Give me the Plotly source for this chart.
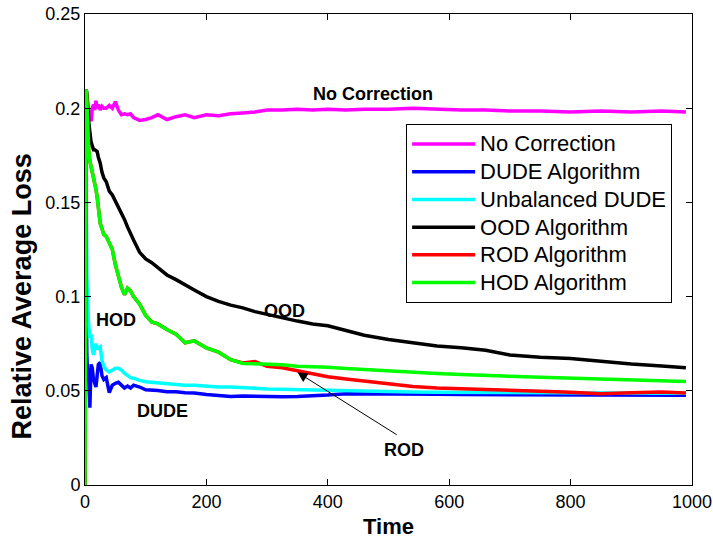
import plotly.graph_objects as go

# Time samples (dense near the start where the curves move fast)
time = [0, 1, 2, 3, 4, 5, 6, 8, 10, 12, 14, 16, 18, 20, 22, 25, 28, 31, 35, 40,
        45, 50, 55, 60, 65, 70, 75, 80, 90, 100, 110, 120, 135, 150, 165, 180, 200, 220, 240, 260,
        280, 300, 325, 350, 375, 400, 430, 460, 500, 540, 580, 620, 660, 700, 750, 800, 850, 900, 950, 990]

no_correction = [0, 0.205, 0.2, 0.198, 0.2, 0.197, 0.199, 0.196, 0.193, 0.2, 0.202, 0.199, 0.204, 0.2, 0.202, 0.199, 0.201, 0.2, 0.2, 0.2015,
                 0.2, 0.2035, 0.199, 0.1965, 0.197, 0.1965, 0.197, 0.195, 0.1935, 0.194, 0.195, 0.1965, 0.194, 0.1955, 0.1965, 0.195, 0.1965, 0.196, 0.197, 0.1975,
                 0.198, 0.199, 0.199, 0.1995, 0.199, 0.1995, 0.199, 0.1995, 0.1995, 0.2, 0.1995, 0.199, 0.199, 0.1985, 0.1985, 0.198, 0.1985, 0.198, 0.1985, 0.198]

dude = [0, 0.18, 0.1, 0.07, 0.06, 0.062, 0.058, 0.041, 0.064, 0.062, 0.056, 0.054, 0.052, 0.058, 0.064, 0.065, 0.058, 0.056, 0.057, 0.049,
        0.053, 0.054, 0.0545, 0.053, 0.0515, 0.0525, 0.0515, 0.053, 0.052, 0.0505, 0.0505, 0.0502, 0.0495, 0.0495, 0.049, 0.0488, 0.048, 0.0475, 0.047, 0.0472,
        0.047, 0.0472, 0.0468, 0.047, 0.0472, 0.0478, 0.0485, 0.0485, 0.0483, 0.0482, 0.0482, 0.048, 0.048, 0.048, 0.0478, 0.0478, 0.0478, 0.0477, 0.0477, 0.0477]

unbalanced_dude = [0, 0.2, 0.15, 0.11, 0.095, 0.09, 0.085, 0.078, 0.08, 0.072, 0.069, 0.072, 0.075, 0.072, 0.073, 0.0735, 0.066, 0.063, 0.061, 0.06,
                   0.061, 0.062, 0.062, 0.061, 0.0594, 0.0584, 0.057, 0.0567, 0.0555, 0.0548, 0.0545, 0.054, 0.0535, 0.0535, 0.053, 0.053, 0.0525, 0.052, 0.052, 0.0515,
                   0.0514, 0.051, 0.0508, 0.0505, 0.0504, 0.0502, 0.05, 0.0497, 0.0495, 0.0494, 0.0492, 0.0491, 0.049, 0.049, 0.0489, 0.0488, 0.0488, 0.0487, 0.0487, 0.0487]

ood = [0, 0.205, 0.21, 0.208, 0.205, 0.2, 0.193, 0.185, 0.182, 0.18, 0.178, 0.178, 0.1775, 0.177, 0.174, 0.171, 0.166, 0.163, 0.161, 0.156,
       0.154, 0.151, 0.1475, 0.144, 0.141, 0.137, 0.133, 0.13, 0.1235, 0.12, 0.118, 0.1155, 0.1115, 0.109, 0.106, 0.1035, 0.1, 0.0975, 0.0955, 0.094,
       0.092, 0.0905, 0.0885, 0.087, 0.0855, 0.0845, 0.082, 0.0795, 0.0772, 0.0755, 0.0738, 0.0728, 0.0715, 0.069, 0.0678, 0.0672, 0.0655, 0.0642, 0.0632, 0.0623]

rod = [0, 0.2, 0.21, 0.205, 0.195, 0.185, 0.178, 0.172, 0.169, 0.167, 0.165, 0.16, 0.157, 0.153, 0.148, 0.139, 0.136, 0.133, 0.132, 0.128,
       0.125, 0.117, 0.111, 0.105, 0.101, 0.1045, 0.103, 0.1, 0.096, 0.09, 0.0865, 0.0855, 0.0825, 0.08, 0.0755, 0.0765, 0.0728, 0.0705, 0.0665, 0.0648,
       0.0655, 0.063, 0.0622, 0.0605, 0.0592, 0.0575, 0.0563, 0.0552, 0.0538, 0.0523, 0.0515, 0.0512, 0.0506, 0.0503, 0.0498, 0.0492, 0.0484, 0.049, 0.0494, 0.0488]

hod = [0, 0.2, 0.21, 0.205, 0.195, 0.185, 0.178, 0.172, 0.169, 0.167, 0.165, 0.16, 0.157, 0.153, 0.148, 0.139, 0.136, 0.133, 0.132, 0.128,
       0.125, 0.117, 0.111, 0.105, 0.101, 0.1045, 0.103, 0.1, 0.096, 0.09, 0.0865, 0.0855, 0.0825, 0.08, 0.0755, 0.0765, 0.0728, 0.0705, 0.0665, 0.0645,
       0.0643, 0.0642, 0.0638, 0.063, 0.0628, 0.0625, 0.0618, 0.0612, 0.0608, 0.06, 0.0592, 0.0586, 0.058, 0.0577, 0.0572, 0.0567, 0.0562, 0.0557, 0.0553, 0.055]

series_names = ["No Correction", "DUDE Algorithm", "Unbalanced DUDE", "OOD Algorithm", "ROD Algorithm", "HOD Algorithm"]
series_values = [no_correction, dude, unbalanced_dude, ood, rod, hod]
series_colors = ["#FF00FF", "#0000FF", "#00FFFF", "#000000", "#FF0000", "#00FF00"]

x_ticks = [0, 200, 400, 600, 800, 1000]
y_ticks = [0, 0.05, 0.1, 0.15, 0.2, 0.25]
y_tick_text = ["0", "0.05", "0.1", "0.15", "0.2", "0.25"]

FONT = "Liberation Sans, Arial, Helvetica, sans-serif"

fig = go.Figure()
for name, vals, col in zip(series_names, series_values, series_colors):
    fig.add_trace(go.Scatter(x=time, y=vals, mode="lines",
                             name='<span style="font-size:22px">%s</span>' % name,
                             line=dict(color=col, width=3.5)))

axis_common = dict(showgrid=False, zeroline=False, showline=True, linecolor="black",
                   linewidth=1, mirror="ticks", ticks="inside", ticklen=6,
                   tickcolor="black", automargin=False,
                   tickfont=dict(family=FONT, size=18, color="black"))

fig.update_xaxes(range=[0, 1000], tickvals=x_ticks,
                 title=dict(text="<b>Time</b>", font=dict(family=FONT, size=22, color="black"), standoff=9),
                 **axis_common)
fig.update_yaxes(range=[0, 0.25], tickvals=y_ticks, ticktext=y_tick_text, **axis_common)

# curve labels
labels = [("<b>No Correction</b>", 474, 0.2075),
          ("<b>HOD</b>", 51, 0.0876),
          ("<b>OOD</b>", 329, 0.0926),
          ("<b>DUDE</b>", 128, 0.0393)]
for text, lx, ly in labels:
    fig.add_annotation(x=lx, y=ly, text=text, showarrow=False,
                       font=dict(family=FONT, size=18, color="black"))

# ROD label with arrow pointing at the red curve
fig.add_annotation(x=350, y=0.0598, ax=516, ay=0.0262, axref="x", ayref="y",
                   text="", showarrow=True, arrowhead=2, arrowsize=2, arrowwidth=1,
                   arrowcolor="black")
fig.add_annotation(x=525, y=0.0186, text="<b>ROD</b>", showarrow=False,
                   font=dict(family=FONT, size=18, color="black"))

# y axis title
fig.add_annotation(xref="paper", yref="paper", x=-0.132, y=0.40, textangle=-90,
                   text="<b>Relative Average Loss</b>", showarrow=False,
                   font=dict(family=FONT, size=27, color="black"))

fig.update_layout(
    template="none",
    width=713, height=539,
    margin=dict(l=85, r=21, t=14, b=54),
    paper_bgcolor="white", plot_bgcolor="white",
    showlegend=True,
    legend=dict(x=0.529, y=0.766, xanchor="left", yanchor="top",
                bgcolor="white", bordercolor="black", borderwidth=1,
                font=dict(family=FONT, size=19, color="black"),
                itemwidth=63, tracegroupgap=0),
)

fig.write_html("out.html")
